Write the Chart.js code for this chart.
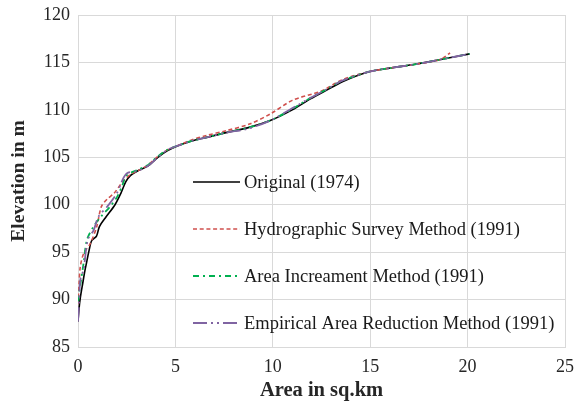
<!DOCTYPE html>
<html>
<head>
<meta charset="utf-8">
<title>Area - Elevation curves</title>
<script src="https://cdn.jsdelivr.net/npm/chart.js@4.4.0/dist/chart.umd.min.js"></script>
<style>
  html, body { margin: 0; padding: 0; background: #fff; }
  #wrap { width: 581px; height: 405px; position: relative; }
</style>
</head>
<body>
<div id="wrap"><canvas id="elev-chart"></canvas></div>
<script>
// ── Area (sq.km) / elevation (m) pairs per survey ─────────────────────
const origArea  = [0, 0.05, 0.12, 0.25, 0.35, 0.45, 0.55, 0.7, 0.95, 1.1, 1.4, 1.9, 2.2, 2.45, 2.7, 3.1, 3.6, 4.1, 4.6, 5.1, 5.8, 6.6, 7.6, 8.7, 9.9, 11.0, 11.8, 12.7, 13.6, 14.9, 16.0, 17.3, 18.6, 20.1];
const origElev  = [87.7, 89.0, 90.2, 91.8, 93.0, 94.0, 95.0, 96.2, 96.7, 97.7, 98.6, 100.0, 101.2, 102.4, 103.1, 103.6, 104.1, 105.0, 105.7, 106.2, 106.7, 107.1, 107.6, 108.1, 108.9, 110.0, 111.0, 112.0, 113.0, 114.0, 114.4, 114.8, 115.3, 115.9];

const hydroArea = [0, 0.05, 0.12, 0.3, 0.6, 0.95, 1.2, 1.5, 1.85, 2.25, 2.7, 3.1, 3.6, 4.1, 4.6, 5.1, 5.8, 6.6, 7.6, 8.8, 9.9, 11.0, 12.5, 13.6, 14.9, 16.0, 17.3, 18.6, 19.1];
const hydroElev = [89.5, 91.5, 93.5, 94.9, 95.8, 97.6, 99.8, 100.6, 101.2, 102.3, 103.2, 103.6, 104.2, 105.1, 105.8, 106.2, 106.8, 107.3, 107.8, 108.5, 109.6, 111.0, 112.0, 113.2, 114.0, 114.4, 114.8, 115.3, 116.0];

const incArea   = [0, 0.08, 0.18, 0.3, 0.46, 0.8, 1.2, 1.65, 2.0, 2.25, 2.5, 3.1, 3.6, 4.1, 4.6, 5.1, 5.8, 6.6, 7.6, 8.7, 9.9, 11.0, 11.8, 12.7, 13.6, 14.9, 16.0, 17.3, 18.6, 20.1];
const incElev   = [89.8, 91.0, 92.4, 94.0, 96.3, 97.7, 98.8, 99.8, 100.8, 101.9, 103.1, 103.7, 104.2, 105.1, 105.8, 106.2, 106.7, 107.1, 107.6, 108.1, 108.9, 110.1, 111.1, 112.1, 113.1, 114.0, 114.4, 114.8, 115.3, 115.9];

const empArea   = [0, 0.05, 0.12, 0.29, 0.5, 0.8, 1.05, 1.5, 1.99, 2.24, 2.5, 3.1, 3.6, 4.1, 4.6, 5.1, 5.8, 6.6, 7.6, 8.7, 9.9, 11.2, 11.8, 12.7, 13.6, 14.9, 16.0, 17.3, 18.6, 20.1];
const empElev   = [87.7, 89.5, 92.1, 93.2, 96.3, 97.3, 98.75, 99.8, 101.2, 102.4, 103.3, 103.6, 104.1, 105.0, 105.8, 106.2, 106.7, 107.1, 107.6, 108.0, 108.9, 110.4, 111.1, 112.1, 113.1, 114.0, 114.4, 114.8, 115.3, 115.9];

const seriesLabels = [
  'Original (1974)',
  'Hydrographic Survey Method (1991)',
  'Area Increament Method (1991)',
  'Empirical Area Reduction Method (1991)'
];

const xTicks = [0, 5, 10, 15, 20, 25];
const yTicks = [85, 90, 95, 100, 105, 110, 115, 120];

const SERIF = '"Liberation Serif", "Times New Roman", serif';

function toPoints(xs, ys) {
  return xs.map((x, i) => ({ x, y: ys[i] }));
}

// ── Legend drawn inside the plot, one row per dataset ─────────────────
const insideLegend = {
  id: 'insideLegend',
  afterDatasetsDraw(chart) {
    const { ctx, chartArea } = chart;
    const x0 = chartArea.left + 115;
    const lineLen = 47;
    const firstRow = chartArea.top + 167;
    const rowGap = 47;
    ctx.save();
    ctx.font = '18.5px ' + SERIF;
    ctx.textBaseline = 'middle';
    ctx.textAlign = 'left';
    chart.data.datasets.forEach((ds, i) => {
      const y = firstRow + i * rowGap;
      ctx.strokeStyle = ds.borderColor;
      ctx.lineWidth = ds.borderWidth;
      ctx.setLineDash(ds.borderDash || []);
      ctx.beginPath();
      ctx.moveTo(x0, y);
      ctx.lineTo(x0 + lineLen, y);
      ctx.stroke();
      ctx.setLineDash([]);
      ctx.fillStyle = '#1a1a1a';
      ctx.fillText(ds.label, x0 + lineLen + 4, y + 1);
    });
    ctx.restore();
  }
};

const lineStyle = {
  pointRadius: 0,
  pointHoverRadius: 0,
  fill: false,
  tension: 0.3,
  showLine: true,
};

const chart = new Chart(document.getElementById('elev-chart'), {
  type: 'scatter',
  data: {
    datasets: [
      {
        ...lineStyle,
        label: seriesLabels[0],
        data: toPoints(origArea, origElev),
        borderColor: '#000000',
        borderWidth: 1.6,
        order: 4,
      },
      {
        ...lineStyle,
        label: seriesLabels[1],
        data: toPoints(hydroArea, hydroElev),
        borderColor: '#d0504d',
        borderWidth: 1.6,
        borderDash: [4, 2.7],
        order: 3,
      },
      {
        ...lineStyle,
        label: seriesLabels[2],
        data: toPoints(incArea, incElev),
        borderColor: '#00b050',
        borderWidth: 1.8,
        borderDash: [6, 4, 2, 4],
        order: 2,
      },
      {
        ...lineStyle,
        label: seriesLabels[3],
        data: toPoints(empArea, empElev),
        borderColor: '#8064a2',
        borderWidth: 1.8,
        borderDash: [14, 4, 2, 4, 2, 4],
        order: 1,
      },
    ]
  },
  options: {
    responsive: true,
    maintainAspectRatio: false,
    animation: false,
    layout: { padding: { top: 15, right: 16, left: 0, bottom: 0 } },
    plugins: {
      legend: { display: false },
      tooltip: { enabled: false },
    },
    scales: {
      x: {
        type: 'linear',
        min: xTicks[0],
        max: xTicks[xTicks.length - 1],
        afterBuildTicks: s => { s.ticks = xTicks.map(v => ({ value: v })); },
        afterFit: s => { s.height = 58; },
        // short invisible tick marks keep the labels clear of the axis
        grid: { color: '#d9d9d9', lineWidth: 1, drawTicks: true, tickLength: 2, tickColor: 'rgba(0,0,0,0)' },
        border: { color: '#d9d9d9', width: 1 },
        ticks: {
          padding: 7,
          color: '#262626',
          font: { family: SERIF, size: 18 },
        },
        title: {
          display: true,
          text: 'Area in sq.km',
          color: '#262626',
          font: { family: SERIF, size: 20.5, weight: 'bold' },
          padding: { top: 0, bottom: 2 },
        },
      },
      y: {
        type: 'linear',
        min: yTicks[0],
        max: yTicks[yTicks.length - 1],
        afterBuildTicks: s => { s.ticks = yTicks.map(v => ({ value: v })); },
        afterFit: s => { s.width = 78; },
        grid: { color: '#d9d9d9', lineWidth: 1, drawTicks: false },
        border: { color: '#d9d9d9', width: 1 },
        ticks: {
          padding: 8,
          color: '#262626',
          font: { family: SERIF, size: 18, lineHeight: 0.75 },
        },
        title: {
          display: true,
          text: 'Elevation in m',
          color: '#262626',
          font: { family: SERIF, size: 19.5, weight: 'bold' },
          padding: { top: 7, bottom: 0 },
        },
      },
    },
  },
  plugins: [insideLegend],
});
</script>
</body>
</html>
